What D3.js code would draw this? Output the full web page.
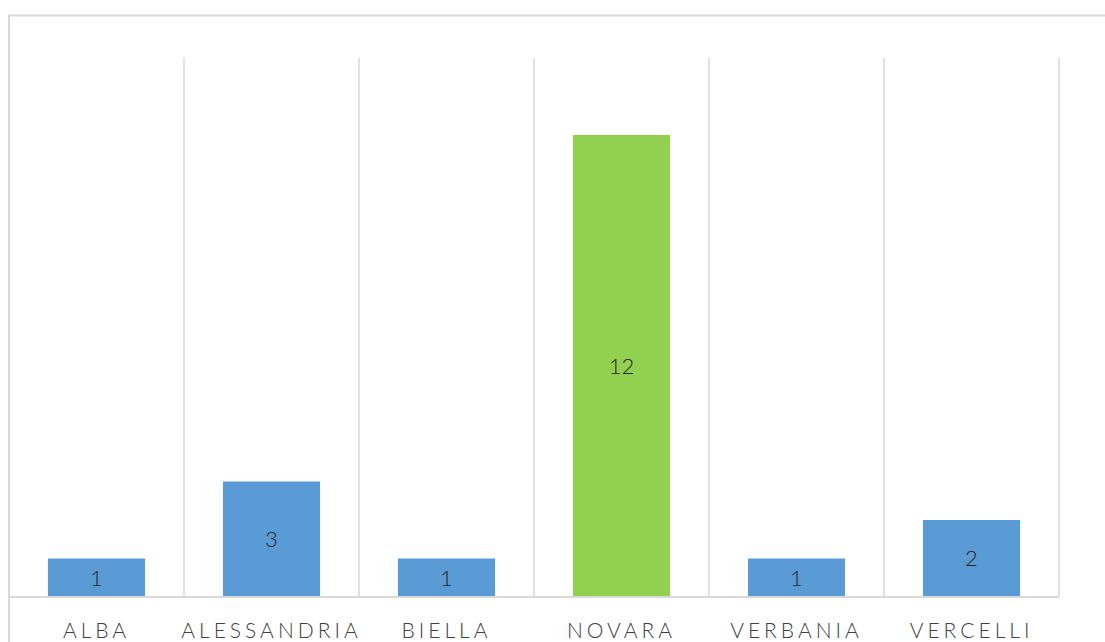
<!DOCTYPE html>
<html>
<head>
<meta charset="utf-8">
<script src="https://cdn.jsdelivr.net/npm/d3@7"></script>
<style>
  body { margin: 0; background: #fff; }
  svg { display: block; font-family: Lato, "Open Sans", sans-serif; }
</style>
</head>
<body>
<div id="chart"></div>
<script>
// Chart data
var categories = ["ALBA", "ALESSANDRIA", "BIELLA", "NOVARA", "VERBANIA", "VERCELLI"];
var values = [1, 3, 1, 12, 1, 2];
var barColors = ["#5b9bd5", "#5b9bd5", "#5b9bd5", "#92d050", "#5b9bd5", "#5b9bd5"];

var width = 1105, height = 642;
var plot = {left: 9, right: 1059, top: 58, bottom: 597};

var svg = d3.select("#chart")
    .append("svg")
    .attr("width", width)
    .attr("height", height);

// outer frame
svg.append("rect")
    .attr("x", 9)
    .attr("y", 15.5)
    .attr("width", 1110)
    .attr("height", 650)
    .attr("fill", "none")
    .attr("stroke", "#d9d9d9")
    .attr("stroke-width", 2);

var x = d3.scaleBand()
    .domain(categories)
    .range([plot.left, plot.right])
    .paddingInner(0.445)
    .paddingOuter(0.2225);

var band = d3.scaleBand()
    .domain(categories)
    .range([plot.left, plot.right]);

var y = d3.scaleLinear()
    .domain([0, 14])
    .range([plot.bottom, plot.top]);

// vertical gridlines at category boundaries
var bounds = categories.map(function(d) { return band(d); }).concat([plot.right]);
svg.selectAll("line.grid")
    .data(bounds.slice(1))
    .enter()
    .append("line")
    .attr("class", "grid")
    .attr("x1", function(d) { return d; })
    .attr("x2", function(d) { return d; })
    .attr("y1", plot.top)
    .attr("y2", plot.bottom)
    .attr("stroke", "#d9d9d9")
    .attr("stroke-width", 1.5);

// bars
svg.selectAll("rect.bar")
    .data(values)
    .enter()
    .append("rect")
    .attr("class", "bar")
    .attr("x", function(d, i) { return x(categories[i]); })
    .attr("y", function(d) { return y(d); })
    .attr("width", x.bandwidth())
    .attr("height", function(d) { return y(0) - y(d); })
    .attr("fill", function(d, i) { return barColors[i]; });

// value labels
svg.selectAll("text.val")
    .data(values)
    .enter()
    .append("text")
    .attr("class", "val")
    .attr("x", function(d, i) { return x(categories[i]) + x.bandwidth() / 2; })
    .attr("y", function(d) { return (y(d) + y(0)) / 2; })
    .attr("dy", "0.36em")
    .attr("text-anchor", "middle")
    .attr("font-size", 22)
    .attr("font-weight", 300)
    .attr("fill", "#262626")
    .text(function(d) { return d; });

// baseline
svg.append("line")
    .attr("x1", plot.left)
    .attr("x2", plot.right)
    .attr("y1", plot.bottom)
    .attr("y2", plot.bottom)
    .attr("stroke", "#d9d9d9")
    .attr("stroke-width", 2);

// category labels
svg.selectAll("text.cat")
    .data(categories)
    .enter()
    .append("text")
    .attr("class", "cat")
    .attr("x", function(d) { return band(d) + band.bandwidth() / 2; })
    .attr("y", 638)
    .attr("text-anchor", "middle")
    .attr("font-size", 21)
    .attr("font-weight", 300)
    .attr("letter-spacing", "4px")
    .attr("fill", "#404040")
    .text(function(d) { return d; });
</script>
</body>
</html>
